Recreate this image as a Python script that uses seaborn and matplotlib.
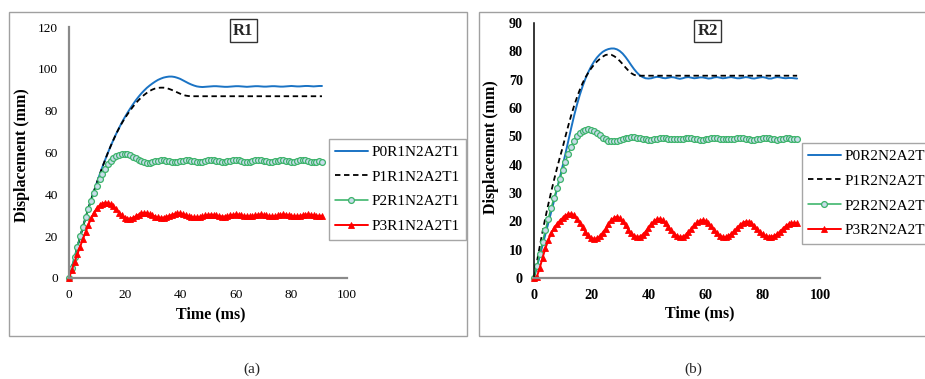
import matplotlib
matplotlib.use("Agg")
import matplotlib.pyplot as plt
import seaborn as sns
import pandas as pd
from matplotlib.patches import Rectangle

sns.set_theme(style="white")
plt.rcParams['font.family'] = ['Liberation Serif', 'DejaVu Serif']

# ---------------- data ----------------
time_r1 = list(range(0, 92))
time_r2 = list(range(0, 93))

labels_r1 = ["P0R1N2A2T1", "P1R1N2A2T1", "P2R1N2A2T1", "P3R1N2A2T1"]
labels_r2 = ["P0R2N2A2T1", "P1R2N2A2T1", "P2R2N2A2T1", "P3R2N2A2T1"]

p0_r1 = [0, 5.0, 9.9, 14.8, 19.6, 24.4, 29.0, 33.4, 37.6, 41.6,
         45.5, 49.3, 53.0, 56.5, 59.9, 63.1, 66.1, 69.0, 71.7, 74.3,
         76.7, 78.9, 81.0, 83.0, 84.9, 86.6, 88.2, 89.6, 90.9, 92.0,
         93.0, 93.9, 94.7, 95.3, 95.8, 96.1, 96.3, 96.3, 96.1, 95.7,
         95.2, 94.5, 93.8, 93.1, 92.5, 92.0, 91.6, 91.4, 91.3, 91.4,
         91.5, 91.6, 91.7, 91.7, 91.6, 91.5, 91.4, 91.4, 91.5, 91.6,
         91.7, 91.7, 91.6, 91.5, 91.4, 91.5, 91.6, 91.7, 91.7, 91.6,
         91.5, 91.5, 91.6, 91.7, 91.7, 91.6, 91.5, 91.5, 91.6, 91.7,
         91.8, 91.7, 91.6, 91.6, 91.7, 91.8, 91.8, 91.7, 91.6, 91.7,
         91.8, 91.8]

p1_r1 = [0, 5.0, 9.9, 14.8, 19.6, 24.4, 29.0, 33.4, 37.6, 41.6,
         45.5, 49.3, 53.0, 56.5, 59.9, 63.1, 66.1, 69.0, 71.6, 74.0,
         76.2, 78.2, 80.1, 81.9, 83.5, 85.0, 86.3, 87.5, 88.5, 89.4,
         90.1, 90.6, 90.9, 91.0, 91.0, 90.8, 90.4, 89.9, 89.3, 88.7,
         88.1, 87.6, 87.2, 87.0, 86.9, 86.9, 86.9, 86.9, 86.9, 86.9,
         86.9, 86.9, 86.9, 86.9, 86.9, 86.9, 86.9, 86.9, 86.9, 86.9,
         86.9, 86.9, 86.9, 86.9, 86.9, 86.9, 86.9, 86.9, 86.9, 86.9,
         86.9, 86.9, 86.9, 86.9, 86.9, 86.9, 86.9, 86.9, 86.9, 86.9,
         86.9, 86.9, 86.9, 86.9, 86.9, 86.9, 86.9, 86.9, 86.9, 86.9,
         86.9, 86.9]

p2_r1 = [0, 5.0, 10.0, 15.0, 19.9, 24.6, 29.0, 33.1, 37.0, 40.6,
         44.0, 47.1, 49.9, 52.3, 54.3, 56.0, 57.3, 58.3, 58.9, 59.3,
         59.4, 59.2, 58.7, 58.0, 57.2, 56.4, 55.8, 55.4, 55.2, 55.2,
         55.4, 55.7, 56.0, 56.2, 56.2, 56.0, 55.8, 55.6, 55.5, 55.6,
         55.8, 56.1, 56.3, 56.3, 56.1, 55.8, 55.6, 55.5, 55.6, 55.9,
         56.2, 56.4, 56.3, 56.0, 55.7, 55.5, 55.5, 55.7, 56.0, 56.3,
         56.4, 56.2, 55.9, 55.6, 55.5, 55.6, 55.9, 56.2, 56.4, 56.3,
         56.0, 55.7, 55.5, 55.6, 55.8, 56.1, 56.3, 56.3, 56.0, 55.7,
         55.5, 55.6, 55.9, 56.2, 56.4, 56.2, 55.9, 55.6, 55.5, 55.6,
         55.7, 55.6]

p3_r1 = [0, 3.8, 7.6, 11.3, 15.0, 18.6, 22.1, 25.5, 28.6, 31.3,
         33.3, 34.7, 35.6, 36.0, 35.9, 35.3, 34.2, 32.8, 31.3, 29.9,
         28.9, 28.4, 28.4, 28.8, 29.5, 30.3, 30.9, 31.2, 31.1, 30.6,
         30.0, 29.4, 29.0, 28.8, 28.9, 29.2, 29.7, 30.2, 30.6, 30.9,
         30.9, 30.6, 30.1, 29.6, 29.2, 29.0, 29.0, 29.2, 29.5, 29.9,
         30.2, 30.3, 30.2, 29.9, 29.6, 29.4, 29.4, 29.6, 29.9, 30.2,
         30.4, 30.3, 30.0, 29.7, 29.5, 29.5, 29.7, 30.0, 30.3, 30.4,
         30.2, 29.9, 29.6, 29.5, 29.6, 29.9, 30.2, 30.4, 30.3, 30.0,
         29.7, 29.5, 29.5, 29.7, 30.0, 30.3, 30.4, 30.2, 29.9, 29.7,
         29.7, 29.7]

p0_r2 = [0, 3.8, 7.7, 11.6, 15.5, 19.4, 23.3, 27.2, 31.2, 35.3,
         39.5, 43.9, 48.4, 52.9, 57.2, 61.1, 64.6, 67.7, 70.4, 72.7,
         74.7, 76.4, 77.8, 78.9, 79.8, 80.4, 80.8, 81.0, 81.0, 80.7,
         80.1, 79.2, 78.0, 76.6, 75.1, 73.7, 72.5, 71.5, 70.9, 70.5,
         70.4, 70.5, 70.8, 71.0, 70.9, 70.6, 70.5, 70.7, 70.9, 70.8,
         70.5, 70.3, 70.5, 70.8, 70.9, 70.7, 70.5, 70.6, 70.8, 70.8,
         70.6, 70.4, 70.5, 70.8, 70.9, 70.7, 70.5, 70.6, 70.8, 70.9,
         70.7, 70.5, 70.5, 70.7, 70.9, 70.8, 70.5, 70.4, 70.6, 70.8,
         70.9, 70.7, 70.4, 70.4, 70.7, 70.9, 70.8, 70.6, 70.5, 70.6,
         70.6, 70.5, 70.4]

p1_r2 = [0, 5.6, 11.1, 16.4, 21.4, 26.0, 30.4, 34.6, 38.6, 42.4,
         46.0, 50.0, 53.8, 57.4, 60.7, 63.7, 66.4, 68.8, 70.8, 72.5,
         74.0, 75.3, 76.4, 77.3, 78.1, 78.7, 78.9, 78.8, 78.3, 77.6,
         76.6, 75.5, 74.3, 73.2, 72.3, 71.7, 71.4, 71.4, 71.4, 71.4,
         71.4, 71.4, 71.4, 71.4, 71.4, 71.4, 71.4, 71.4, 71.4, 71.4,
         71.4, 71.4, 71.4, 71.4, 71.4, 71.4, 71.4, 71.4, 71.4, 71.4,
         71.4, 71.4, 71.4, 71.4, 71.4, 71.4, 71.4, 71.4, 71.4, 71.4,
         71.4, 71.4, 71.4, 71.4, 71.4, 71.4, 71.4, 71.4, 71.4, 71.4,
         71.4, 71.4, 71.4, 71.4, 71.4, 71.4, 71.4, 71.4, 71.4, 71.4,
         71.4, 71.4, 71.4]

p2_r2 = [0, 4.2, 8.5, 12.8, 17.0, 21.0, 24.8, 28.3, 31.6, 34.8,
         38.0, 41.0, 43.9, 46.4, 48.5, 50.1, 51.3, 52.0, 52.4, 52.5,
         52.3, 51.8, 51.1, 50.3, 49.5, 48.9, 48.4, 48.2, 48.2, 48.4,
         48.7, 49.0, 49.3, 49.5, 49.6, 49.6, 49.5, 49.3, 49.1, 48.9,
         48.8, 48.8, 48.9, 49.1, 49.3, 49.4, 49.4, 49.2, 49.0, 48.9,
         48.9, 49.0, 49.2, 49.4, 49.5, 49.4, 49.2, 49.0, 48.8, 48.8,
         48.9, 49.1, 49.3, 49.5, 49.4, 49.2, 49.0, 48.9, 48.9, 49.0,
         49.2, 49.4, 49.5, 49.4, 49.2, 49.0, 48.8, 48.8, 49.0, 49.2,
         49.4, 49.5, 49.3, 49.1, 48.9, 48.8, 48.9, 49.1, 49.3, 49.3,
         49.2, 49.1, 49.1]

p3_r2 = [0, 0.5, 3.5, 7.2, 10.5, 13.3, 15.8, 17.6, 19.0, 20.2,
         21.2, 22.0, 22.6, 22.7, 22.2, 21.0, 19.5, 17.9, 16.4, 15.1,
         14.2, 13.8, 14.0, 14.8, 16.0, 17.4, 18.9, 20.3, 21.3, 21.6,
         21.1, 20.0, 18.6, 17.1, 15.8, 14.9, 14.5, 14.6, 15.3, 16.4,
         17.7, 19.0, 20.1, 20.8, 20.9, 20.4, 19.4, 18.1, 16.8, 15.6,
         14.8, 14.5, 14.6, 15.2, 16.2, 17.4, 18.6, 19.6, 20.2, 20.4,
         20.1, 19.3, 18.2, 17.0, 15.9, 15.0, 14.5, 14.4, 14.8, 15.6,
         16.6, 17.7, 18.7, 19.5, 19.9, 19.9, 19.4, 18.5, 17.4, 16.3,
         15.4, 14.8, 14.6, 14.6, 14.9, 15.5, 16.4, 17.4, 18.3, 19.0,
         19.4, 19.5, 19.3]

# ---------------- styling ----------------
W, H = 925, 379
BLUE = "#1a73c4"
GREEN = "#2fb060"
RED = "#ff0000"

styles = [
    dict(color=BLUE, linewidth=1.4),
    dict(color="black", linewidth=1.3, linestyle=(0, (3, 2))),
    dict(color=GREEN, linewidth=1.1, marker="o", markersize=4.2,
         markerfacecolor="#c8dcea", markeredgecolor="#3cb36a", markeredgewidth=0.9),
    dict(color=RED, linewidth=1.4, marker="^", markersize=4.2,
         markerfacecolor=RED, markeredgecolor=RED, markeredgewidth=0.6),
]

fig = plt.figure(figsize=(W / 100, H / 100), dpi=100)
fig.patch.set_facecolor("white")

# panel frames
for x0, x1 in [(9, 467), (479, 940)]:
    fig.add_artist(Rectangle((x0 / W, 1 - 336 / H), (x1 - x0) / W, 324 / H,
                             transform=fig.transFigure, fill=False,
                             edgecolor="#a0a0a0", linewidth=1.0, zorder=0))

ax1 = fig.add_axes([69 / W, 1 - 278 / H, 278 / W, 251 / H])
ax2 = fig.add_axes([534 / W, 1 - 278 / H, 286 / W, 255 / H])


def draw(ax, t, series, labels):
    for vals, lab, st in zip(series, labels, styles):
        df = pd.DataFrame({"t": t, "v": vals})
        sns.lineplot(data=df, x="t", y="v", ax=ax, label=lab, clip_on=False,
                     estimator=None, sort=False, **st)


draw(ax1, time_r1, [p0_r1, p1_r1, p2_r1, p3_r1], labels_r1)
draw(ax2, time_r2, [p0_r2, p1_r2, p2_r2, p3_r2], labels_r2)

ax1.set_xlim(0, 100)
ax1.set_ylim(0, 120)
ax1.set_xticks(range(0, 101, 20))
ax1.set_yticks(range(0, 121, 20))
ax2.set_xlim(0, 100)
ax2.set_ylim(0, 90)
ax2.set_xticks(range(0, 101, 20))
ax2.set_yticks(range(0, 91, 10))

for ax, lcol, lw, tweight, tsize in [(ax1, "#8a8a8a", 1.6, "normal", 9.6),
                                     (ax2, "black", 1.1, "bold", 10.2)]:
    ax.set_facecolor("white")
    ax.grid(False)
    for s in ["top", "right"]:
        ax.spines[s].set_visible(False)
    ax.spines["left"].set_color(lcol)
    ax.spines["left"].set_linewidth(lw)
    ax.spines["bottom"].set_color("#8a8a8a")
    ax.spines["bottom"].set_linewidth(1.6)
    ax.tick_params(length=0, pad=8, labelsize=tsize, colors="black")
    for lbl in ax.get_xticklabels() + ax.get_yticklabels():
        lbl.set_fontweight(tweight)
    ax.set_xlabel("Time (ms)", fontsize=11.5, fontweight="bold", color="black")
    ax.set_ylabel("Displacement (mm)", fontsize=11.5, fontweight="bold", color="black")

ax1.xaxis.set_label_coords(0.511, -0.112)
ax2.xaxis.set_label_coords(0.58, -0.106)
ax1.yaxis.set_label_coords(-0.142, 0.49)
ax2.yaxis.set_label_coords(-0.122, 0.512)

# boxed titles
ax1.text(0.626, 0.986, "R1", transform=ax1.transAxes, ha="center", va="center",
         fontsize=12, fontweight="bold",
         bbox=dict(boxstyle="square,pad=0.2", facecolor="white", edgecolor="#333333", linewidth=1.0))
ax2.text(0.607, 0.969, "R2", transform=ax2.transAxes, ha="center", va="center",
         fontsize=12, fontweight="bold",
         bbox=dict(boxstyle="square,pad=0.2", facecolor="white", edgecolor="#333333", linewidth=1.0))

# legends
for ax, (lx, ly) in [(ax1, (329, 139)), (ax2, (802, 143))]:
    leg = ax.legend(loc="upper left", bbox_to_anchor=(lx / W, 1 - ly / H),
                    bbox_transform=fig.transFigure, borderaxespad=0,
                    frameon=True, fancybox=False, edgecolor="#a6a6a6",
                    framealpha=1, fontsize=11, handlelength=2.1,
                    handletextpad=0.25, borderpad=0.42, labelspacing=0.72)
    leg.get_frame().set_linewidth(1.0)
    for txt in leg.get_texts():
        txt.set_color("black")

# captions
fig.text(252 / W, 1 - 369 / H, "(a)", ha="center", va="center", fontsize=11)
fig.text(693 / W, 1 - 369 / H, "(b)", ha="center", va="center", fontsize=11)

fig.savefig("out.png", dpi=100, facecolor="white")
